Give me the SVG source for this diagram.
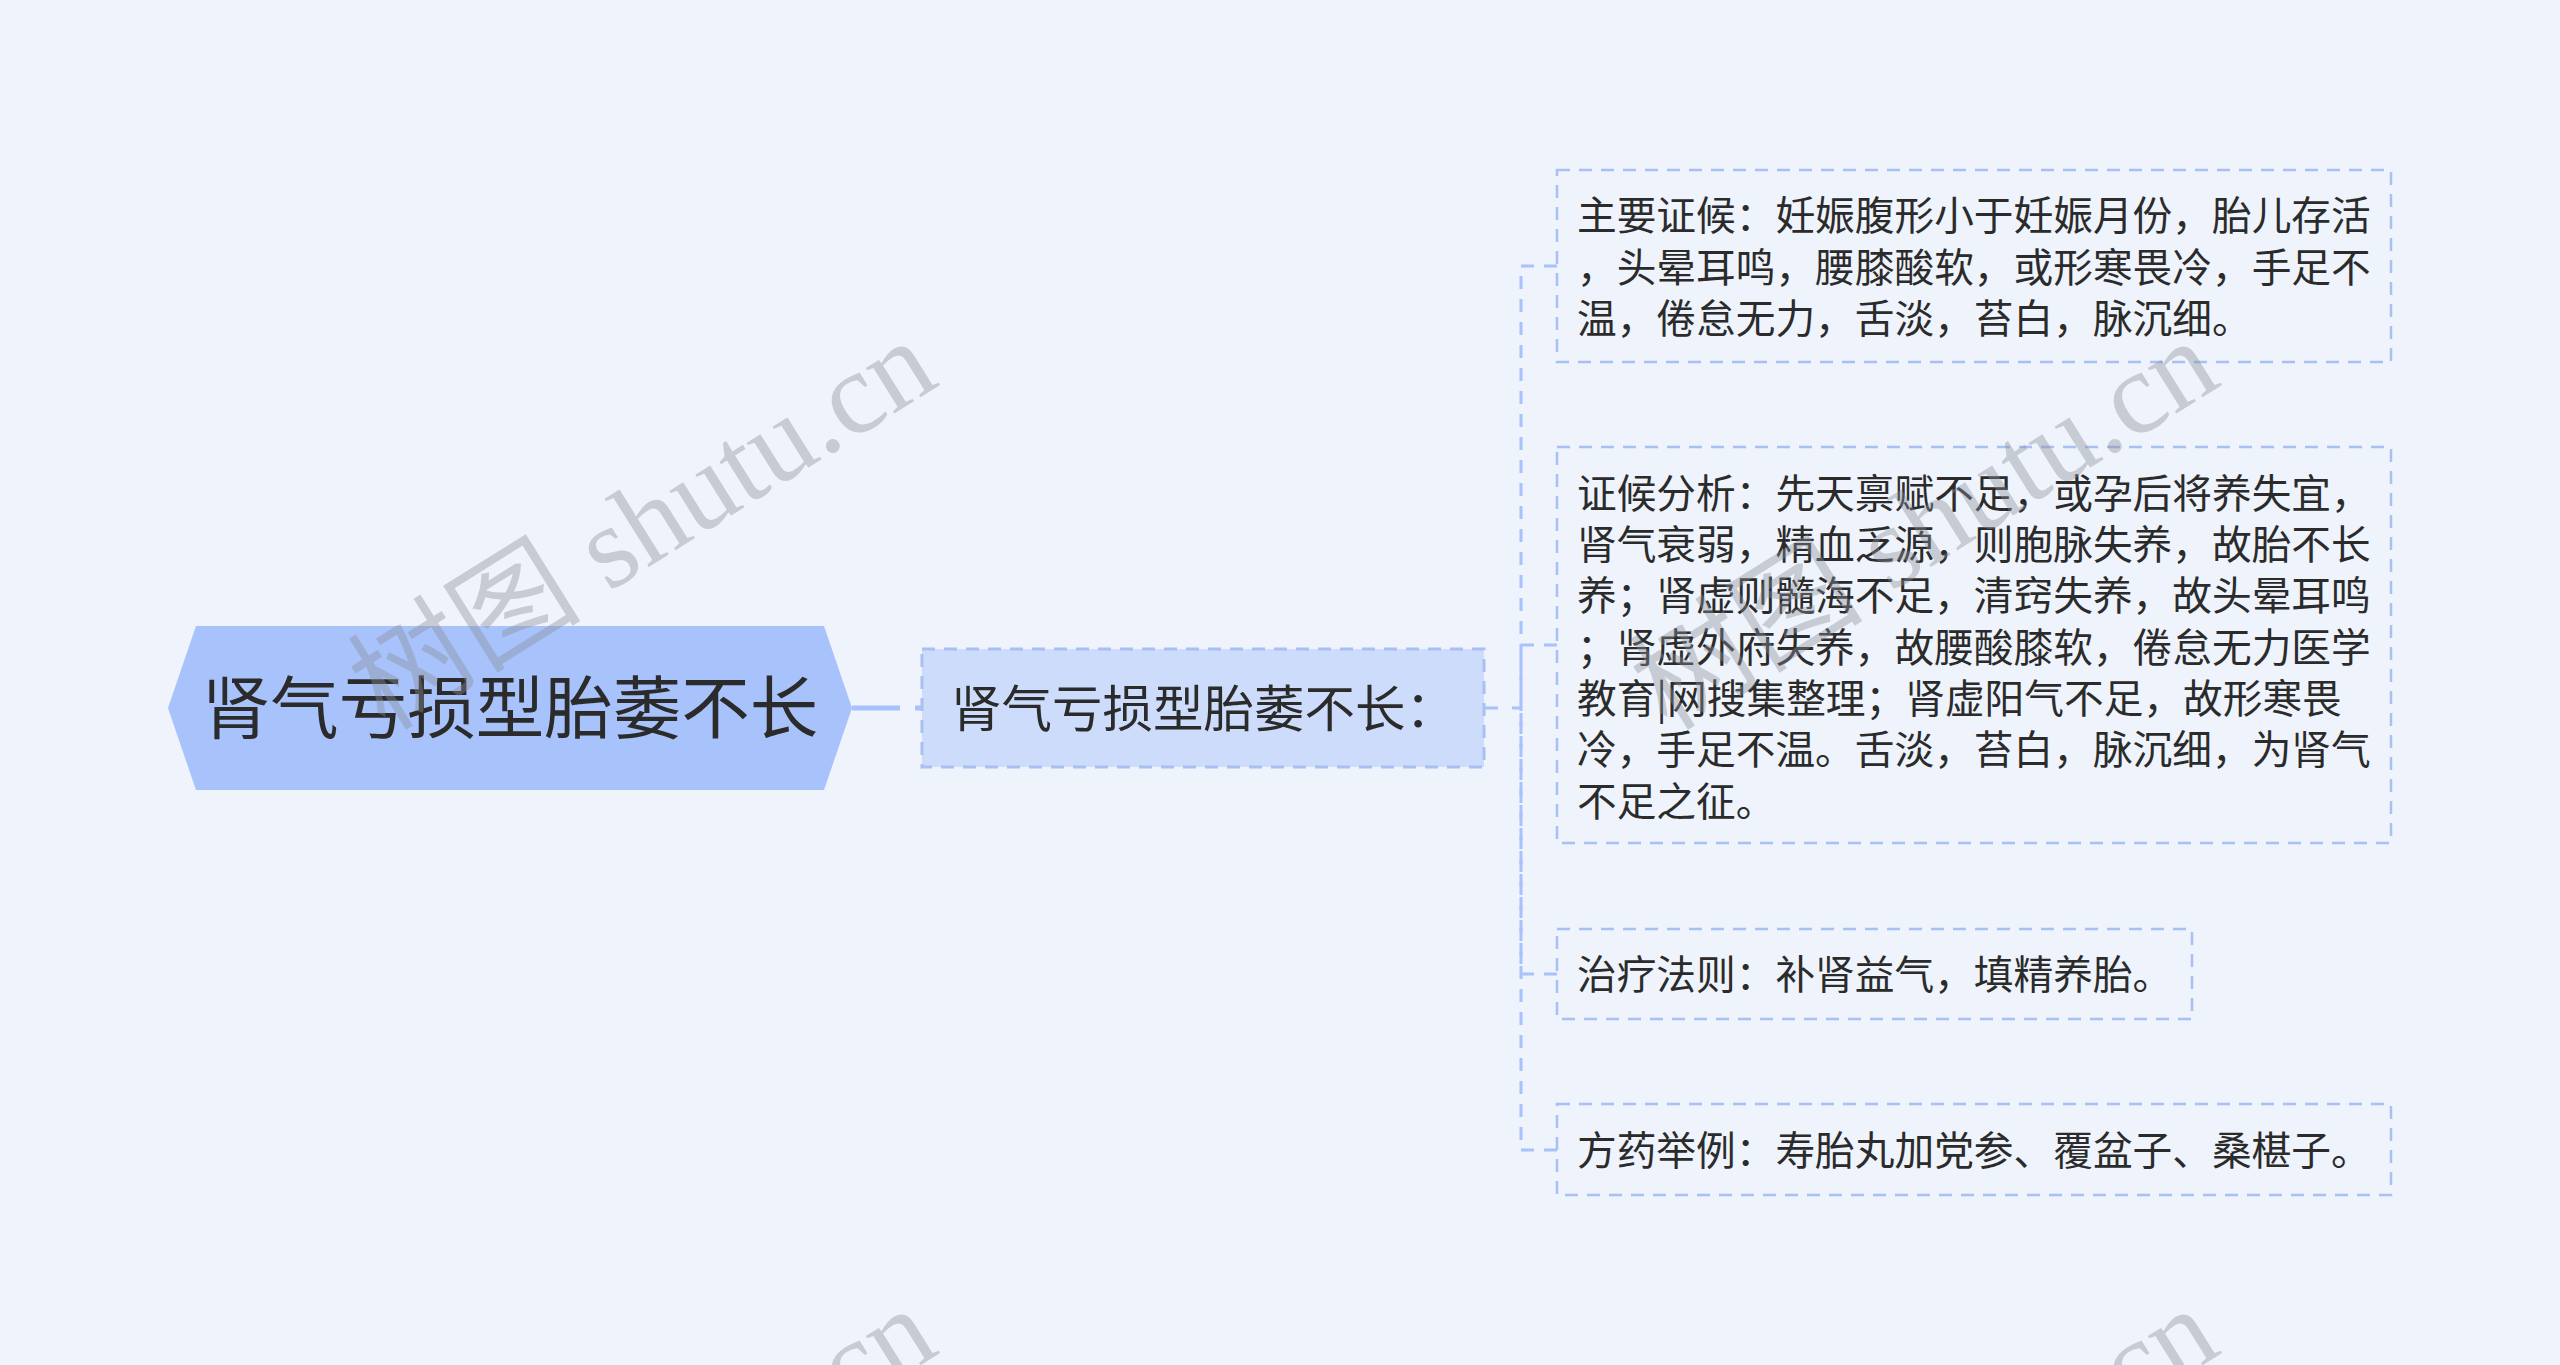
<svg xmlns="http://www.w3.org/2000/svg" width="2560" height="1365" viewBox="0 0 2560 1365">
<style>
.bg{fill:#eef3fc}
.root{fill:#a8c2fb}
.sub{fill:#ccdcfa;stroke:#a8c0f2;stroke-width:3;stroke-dasharray:13 9}
.leaf{fill:none;stroke:#a8c0f2;stroke-width:2.5;stroke-dasharray:13 9}
.t{font-family:"Noto Sans CJK SC","Microsoft YaHei",sans-serif;fill:#2b2b2b}
.lt{font-size:39.7px}
.con{fill:none;stroke:#a8c2fb;stroke-width:3;stroke-dasharray:13 10}
.wm{font-family:"Liberation Serif","Noto Sans CJK SC",serif;font-size:117px;fill:#8a8f99;fill-opacity:0.4}
</style>
<rect class="bg" x="0" y="0" width="2560" height="1365"/>
<g id="connectors">
<path d="M852 708 H922" fill="none" stroke="#a8c2fb" stroke-width="5" stroke-dasharray="48 15 10 100"/>
<path d="M1484 708 H1521" fill="none" stroke="#a8c2fb" stroke-width="3" stroke-dasharray="14 14 10"/>
<path class="con" d="M1557 266 H1521 V708"/>
<path class="con" d="M1557 645 H1521 V708"/>
<path class="con" d="M1557 974 H1521 V708"/>
<path class="con" d="M1557 1150 H1521 V708"/>
</g>
<g id="node-root">
<polygon class="root" points="168,708 196,626 824,626 852,708 824,790 196,790"/>
<text class="t" x="510" y="733" font-size="68.5" text-anchor="middle">肾气亏损型胎萎不长</text>
</g>
<g id="node-sub">
<rect class="sub" x="922" y="649" width="562" height="118"/>
<text class="t" x="951" y="727" font-size="50.5">肾气亏损型胎萎不长：</text>
</g>
<g id="node-1">
<rect class="leaf" x="1557" y="170" width="834" height="192"/>
<text class="t lt"><tspan x="1577" y="230">主要证候：妊娠腹形小于妊娠月份，胎儿存活</tspan><tspan x="1577" y="281.5">，头晕耳鸣，腰膝酸软，或形寒畏冷，手足不</tspan><tspan x="1577" y="333">温，倦怠无力，舌淡，苔白，脉沉细。</tspan></text>
</g>
<g id="node-2">
<rect class="leaf" x="1557" y="447" width="834" height="396"/>
<text class="t lt"><tspan x="1577" y="507.5">证候分析：先天禀赋不足，或孕后将养失宜，</tspan><tspan x="1577" y="559">肾气衰弱，精血乏源，则胞脉失养，故胎不长</tspan><tspan x="1577" y="610">养；肾虚则髓海不足，清窍失养，故头晕耳鸣</tspan><tspan x="1577" y="661.5">；肾虚外府失养，故腰酸膝软，倦怠无力医学</tspan><tspan x="1577" y="713">教育|网搜集整理；肾虚阳气不足，故形寒畏</tspan><tspan x="1577" y="764">冷，手足不温。舌淡，苔白，脉沉细，为肾气</tspan><tspan x="1577" y="815.5">不足之征。</tspan></text>
</g>
<g id="node-3">
<rect class="leaf" x="1557" y="929" width="635" height="90"/>
<text class="t lt" x="1577" y="989">治疗法则：补肾益气，填精养胎。</text>
</g>
<g id="node-4">
<rect class="leaf" x="1557" y="1104" width="834" height="91"/>
<text class="t lt" x="1577" y="1164.5">方药举例：寿胎丸加党参、覆盆子、桑椹子。</text>
</g>
<g id="watermarks">
<text class="wm" transform="translate(385,732) rotate(-32)">树图 shutu.cn</text>
<text class="wm" transform="translate(1667,732) rotate(-32)">树图 shutu.cn</text>
<text class="wm" transform="translate(385,1700) rotate(-32)">树图 shutu.cn</text>
<text class="wm" transform="translate(1667,1700) rotate(-32)">树图 shutu.cn</text>
</g>
</svg>
